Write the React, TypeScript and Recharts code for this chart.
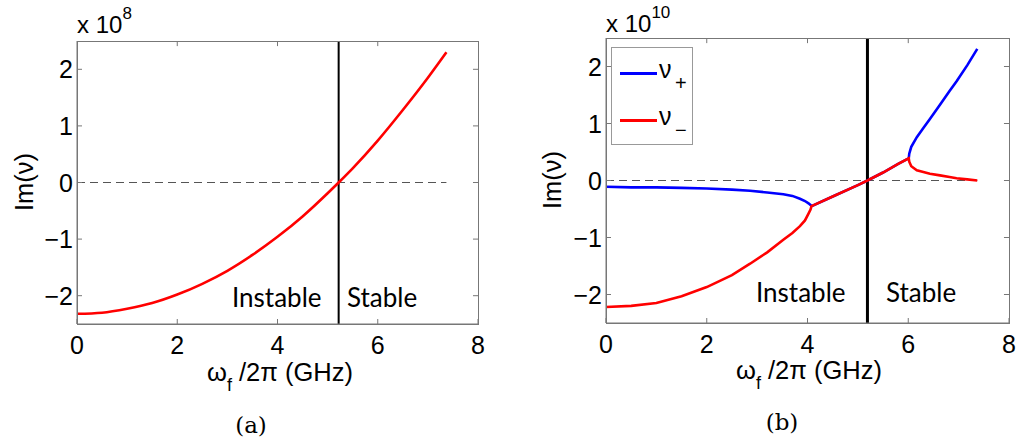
import React from 'react';
import { LineChart, Line, XAxis, YAxis, ReferenceLine } from 'recharts';

// panel (a)
const freqA = [0, 0.5, 1, 1.5, 2, 2.5, 3, 3.5, 4, 4.5, 5, 5.22, 5.5, 6, 6.5, 7, 7.37];
const imA = [-2.32, -2.3, -2.23, -2.13, -1.98, -1.79, -1.56, -1.28, -0.96, -0.6, -0.19, 0, 0.25, 0.74, 1.28, 1.85, 2.3];

// panel (b)
const freqB = [0, 0.5, 1, 1.5, 2, 2.5, 2.86, 3.2, 3.52, 3.7, 3.85, 3.95, 4.02, 4.06, 4.08, 4.5, 5, 5.19, 5.5, 5.8, 6.01, 6.02, 6.06, 6.17, 6.3, 6.43, 6.63, 6.82, 6.96, 7.17, 7.37];
const nuPlus = [-0.11, -0.12, -0.12, -0.13, -0.14, -0.16, -0.18, -0.21, -0.24, -0.27, -0.32, -0.36, -0.4, -0.43, -0.45, -0.28, -0.08, 0, 0.14, 0.29, 0.39, 0.47, 0.59, 0.76, 0.92, 1.08, 1.33, 1.57, 1.74, 2.02, 2.31];
const nuMinus = [-2.22, -2.2, -2.15, -2.03, -1.87, -1.66, -1.46, -1.26, -1.04, -0.92, -0.8, -0.7, -0.58, -0.51, -0.45, -0.28, -0.08, 0, 0.14, 0.29, 0.39, 0.33, 0.25, 0.18, 0.15, 0.12, 0.09, 0.06, 0.04, 0.02, 0.0];

const xTicks = [0, 2, 4, 6, 8];
const yTicks = [-2, -1, 0, 1, 2];
const xDomain = [0, 8];
const yDomain = [-2.5, 2.5];
const stableEdgeA = 5.22;
const stableEdgeB = 5.19;
const zeroEnd = 7.37;

const dataA = freqA.map((x, i) => ({ x, im: imA[i] }));
const dataB = freqB.map((x, i) => ({ x, plus: nuPlus[i], minus: nuMinus[i] }));

const SANS = '"Liberation Sans", Arial, sans-serif';
const FRAME = '#777';
const H = 446;
const X_AXIS_H = 30;
const Y_AXIS_W = 50;

const layoutA = { left: 0, width: 500, margin: { top: 41, right: 22, left: 27, bottom: 92 } };
const layoutB = { left: 520, width: 499, margin: { top: 38, right: 10, left: 36, bottom: 93 } };

const fmt = (v: number) => (v < 0 ? '\u2212' + Math.abs(v) : String(v));

function XTick(p: any) {
    return (
        <text x={p.x} y={p.y + 33} textAnchor="middle" fontFamily={SANS} fontSize={25} fill="#000">
            {fmt(p.payload.value)}
        </text>
    );
}

function YTick(p: any) {
    return (
        <text x={p.x - 7} y={p.y + 9} textAnchor="end" fontFamily={SANS} fontSize={25} fill="#000">
            {fmt(p.payload.value)}
        </text>
    );
}

// axes + inward ticks on the top and right edges
function frame() {
    const [x0, x1] = xDomain;
    const y1 = yDomain[1];
    const tx = 0.1; // ~5px in x units
    const ty = 0.09; // ~5px in y units
    return [
        <XAxis
            key="xb"
            dataKey="x"
            type="number"
            domain={xDomain}
            ticks={xTicks}
            allowDataOverflow
            height={X_AXIS_H}
            tick={<XTick />}
            tickSize={-5}
            axisLine={{ stroke: FRAME }}
            tickLine={{ stroke: FRAME }}
        />,
        <YAxis
            key="yl"
            type="number"
            domain={yDomain}
            ticks={yTicks}
            allowDataOverflow
            width={Y_AXIS_W}
            tick={<YTick />}
            tickSize={-5}
            axisLine={{ stroke: FRAME }}
            tickLine={{ stroke: FRAME }}
        />,
        ...xTicks.filter(t => t > x0 && t < x1).map(t => (
            <ReferenceLine key={'tt' + t} segment={[{ x: t, y: y1 }, { x: t, y: y1 - ty }]} stroke={FRAME} ifOverflow="visible" />
        )),
        ...yTicks.map(t => (
            <ReferenceLine key={'rt' + t} segment={[{ x: x1, y: t }, { x: x1 - tx, y: t }]} stroke={FRAME} ifOverflow="visible" />
        )),
    ];
}

// border around the plotting area, from the same layout numbers
function PlotBox({ layout }: { layout: typeof layoutA }) {
    const { left, width, margin } = layout;
    const x = left + margin.left + Y_AXIS_W;
    const w = width - margin.left - margin.right - Y_AXIS_W;
    const h = H - margin.top - margin.bottom - X_AXIS_H;
    return (
        <div style={{ position: 'absolute', left: x - 0.5, top: margin.top - 0.5, width: w + 1, height: h + 1, border: `1px solid ${FRAME}`, boxSizing: 'border-box', pointerEvents: 'none' }} />
    );
}

function NuLegend() {
    const row = (color: string, sub: string) => (
        <div style={{ position: 'relative', height: 47 }}>
            <div style={{ position: 'absolute', left: 8, top: 24, width: 37, height: 3, background: color }} />
            <span style={{ position: 'absolute', left: 47, top: 9, fontFamily: SANS, fontSize: 25, lineHeight: '25px' }}>ν</span>
            <span style={{ position: 'absolute', left: 63, top: 25, fontFamily: SANS, fontSize: 20, lineHeight: '20px' }}>{sub}</span>
        </div>
    );
    return (
        <div style={{ position: 'absolute', left: 611, top: 47, width: 82, height: 98, border: '1px solid #999', background: '#fff', boxSizing: 'border-box' }}>
            {row('#0000ff', '+')}
            {row('#ff0000', '\u2212')}
        </div>
    );
}

function XLabel({ x, y }: { x: number; y: number }) {
    return (
        <text x={x} y={y} fontFamily={SANS} fontSize={25.5} fill="#000">
            ω<tspan fontSize={18} dy={10}>f</tspan>
            <tspan dy={-10}> /2π (GHz)</tspan>
        </text>
    );
}

function YLabel({ x, y }: { x: number; y: number }) {
    return (
        <text x={x} y={y} fontFamily={SANS} fontSize={25.5} fill="#000" textAnchor="middle" transform={`rotate(-90 ${x} ${y})`} dominantBaseline="central">
            Im(ν)
        </text>
    );
}

function Exponent({ x, y, exp }: { x: number; y: number; exp: string }) {
    return (
        <text x={x} y={y} fontFamily={SANS} fontSize={24} fill="#000">
            x 10<tspan fontSize={17} dy={-14}>{exp}</tspan>
        </text>
    );
}

const noteStyle = { fontFamily: 'Lato, "Open Sans", sans-serif', fontSize: 26, fill: '#000' };

export default function App() {
    return (
        <div style={{ position: 'absolute', left: 0, top: 0, width: 1019, height: H, background: '#fff' }}>
            <div style={{ position: 'absolute', left: layoutA.left, top: 0 }}>
                <LineChart width={layoutA.width} height={H} data={dataA} margin={layoutA.margin}>
                    {frame()}
                    <ReferenceLine segment={[{ x: 0, y: 0 }, { x: zeroEnd, y: 0 }]} stroke="#555" strokeDasharray="8 5" />
                    <ReferenceLine x={stableEdgeA} stroke="#000" strokeWidth={2} />
                    <Line type="monotone" dataKey="im" stroke="#ff0000" strokeWidth={2.6} dot={false} isAnimationActive={false} />
                </LineChart>
            </div>
            <div style={{ position: 'absolute', left: layoutB.left, top: 0 }}>
                <LineChart width={layoutB.width} height={H} data={dataB} margin={layoutB.margin}>
                    {frame()}
                    <ReferenceLine segment={[{ x: 0, y: 0 }, { x: zeroEnd, y: 0 }]} stroke="#555" strokeDasharray="8 5" />
                    <ReferenceLine x={stableEdgeB} stroke="#000" strokeWidth={3} />
                    <Line dataKey="plus" name="ν+" stroke="#0000ff" strokeWidth={2.6} dot={false} isAnimationActive={false} />
                    <Line dataKey="minus" name="ν−" stroke="#ff0000" strokeWidth={2.6} dot={false} isAnimationActive={false} />
                </LineChart>
            </div>
            <PlotBox layout={layoutA} />
            <PlotBox layout={layoutB} />
            <NuLegend />
            <svg width={1019} height={H} style={{ position: 'absolute', left: 0, top: 0, pointerEvents: 'none' }}>
                <Exponent x={77} y={33} exp="8" />
                <Exponent x={606} y={32} exp="10" />
                <YLabel x={24} y={182} />
                <YLabel x={552} y={180} />
                <XLabel x={207} y={381} />
                <XLabel x={736} y={379} />
                <text x={232} y={307} {...noteStyle}>Instable</text>
                <text x={347} y={307} {...noteStyle}>Stable</text>
                <text x={756} y={302} {...noteStyle}>Instable</text>
                <text x={886} y={302} {...noteStyle}>Stable</text>
                <text x={251} y={433} textAnchor="middle" fontFamily='"DejaVu Serif", serif' fontSize={23}>(a)</text>
                <text x={782} y={430} textAnchor="middle" fontFamily='"DejaVu Serif", serif' fontSize={23}>(b)</text>
            </svg>
        </div>
    );
}
